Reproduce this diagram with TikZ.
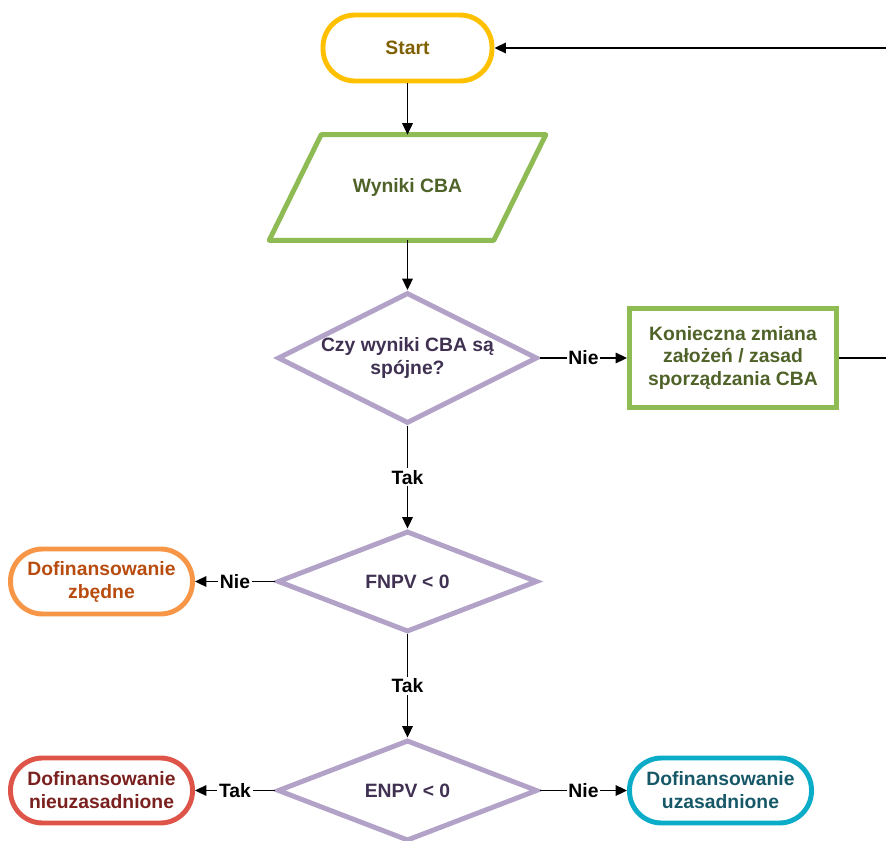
\documentclass[tikz,border=0pt]{standalone}
\usepackage{fontspec}
\setmainfont{Liberation Sans}
\usetikzlibrary{shapes.geometric,arrows.meta,calc}
\definecolor{startyellow}{RGB}{255,192,0}
\definecolor{starttext}{RGB}{127,96,0}
\definecolor{cbagreen}{RGB}{143,187,84}
\definecolor{cbatext}{RGB}{79,98,40}
\definecolor{testpurple}{RGB}{179,162,199}
\definecolor{testtext}{RGB}{64,49,82}
\definecolor{zbedneorange}{RGB}{247,150,70}
\definecolor{zbednetext}{RGB}{184,76,14}
\definecolor{nieuzred}{RGB}{222,84,72}
\definecolor{nieuztext}{RGB}{122,32,30}
\definecolor{uzascyan}{RGB}{10,172,200}
\definecolor{uzastext}{RGB}{22,88,104}
\begin{document}
\begin{tikzpicture}[x=0.02cm, y=-0.02cm,
		every node/.style={font=\fontsize{11}{13}\selectfont\bfseries, align=center},
		>={Triangle[length=6.5pt,width=6pt]},
		conn/.style={line width=0.85pt, ->},
		lbl/.style={fill=white, inner sep=1pt, text=black},
		endbox/.style={draw, line width=2.8pt, rounded corners=0.64cm, minimum width=3.64cm, minimum height=1.3cm, inner sep=0pt},
		testbox/.style={diamond, aspect=2.4, draw=testpurple, line width=2.8pt, text=testtext, inner sep=-4pt, minimum width=5.2cm}]
		\useasboundingbox (0,0) rectangle (886,841);
		\clip (0,0) rectangle (886,841);
		\node [endbox, draw=startyellow, text=starttext, minimum width=3.38cm, minimum height=1.32cm] (start) at (407.5,48) {Start};
		\node [text=cbatext, minimum width=4.48cm, minimum height=2.1cm, inner sep=0pt] (wyniki) at (407.5,187.5) {Wyniki CBA};
		\draw [cbagreen, line width=2.8pt, line join=round] ($(wyniki.north west)+(26,0)$) -- ($(wyniki.north east)+(26,0)$) -- ($(wyniki.south east)+(-26,0)$) -- ($(wyniki.south west)+(-26,0)$) -- cycle;
		\node [testbox, minimum height=2.62cm] (spojne) at (407.5,358) {Czy wyniki CBA są\\spójne?};
		\node [draw=cbagreen, line width=2.8pt, text=cbatext, minimum width=4.14cm, minimum height=1.98cm, inner sep=0pt] (zmiana) at (733,358) {Konieczna zmiana\\założeń / zasad\\sporządzania CBA};
		\node [testbox, minimum height=2.02cm] (fnpv) at (407.5,581.5) {FNPV < 0};
		\node [endbox, draw=zbedneorange, text=zbednetext] (zbedne) at (101.5,581.5) {Dofinansowanie\\zbędne};
		\node [testbox, minimum height=2.02cm] (enpv) at (407.5,790.5) {ENPV < 0};
		\node [endbox, draw=nieuzred, text=nieuztext] (nieuzas) at (101.5,790.5) {Dofinansowanie\\nieuzasadnione};
		\node [endbox, draw=uzascyan, text=uzastext] (uzas) at (720.5,790.5) {Dofinansowanie\\uzasadnione};
		\draw [conn] (start) -- (wyniki);
		\draw [conn] (wyniki) -- (spojne);
		\draw [conn] (spojne) -- node [lbl] {Nie} (zmiana);
		\draw [conn] (spojne) -- node [lbl] {Tak} (fnpv);
		\draw [conn] (fnpv) -- node [lbl] {Nie} (zbedne);
		\draw [conn] (fnpv) -- node [lbl] {Tak} (enpv);
		\draw [conn] (enpv) -- node [lbl] {Tak} (nieuzas);
		\draw [conn] (enpv) -- node [lbl] {Nie} (uzas);
		\draw [conn] (zmiana.east) -- ++(80,0) |- (start.east);
\end{tikzpicture}
\end{document}
